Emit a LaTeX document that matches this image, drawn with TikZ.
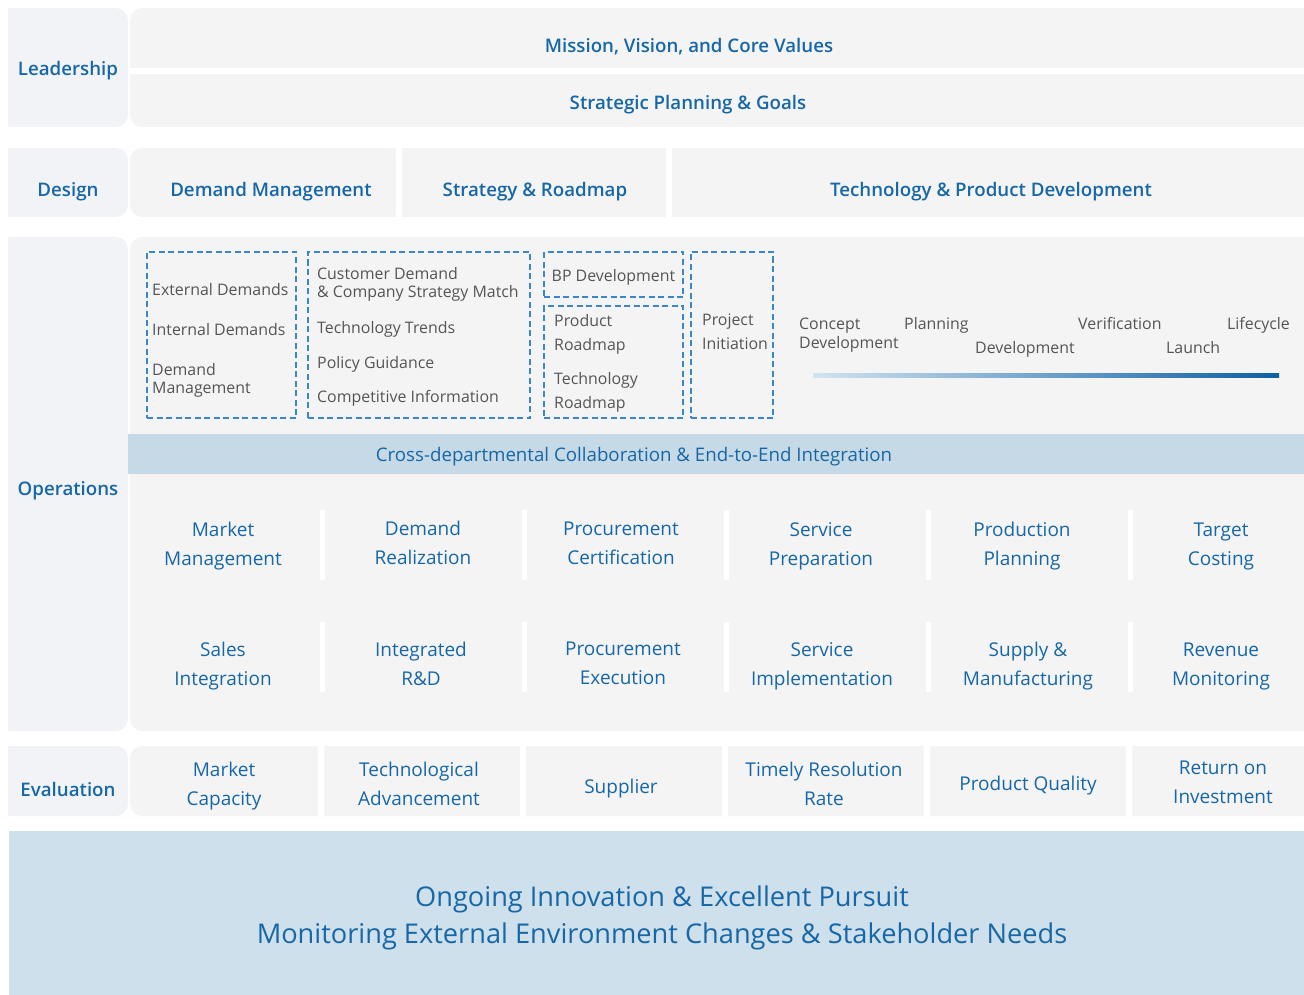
\documentclass[tikz,border=0pt]{standalone}
\usepackage{fontspec}
\IfFontExistsTF{Open Sans Semibold}
  {\setmainfont{Open Sans}[BoldFont={Open Sans Semibold}]}
  {\setmainfont{Open Sans}}
\usetikzlibrary{positioning,calc}
\definecolor{tierblue}{HTML}{1767A6}
\definecolor{notegray}{HTML}{555555}
\definecolor{panelgray}{HTML}{F4F4F4}
\definecolor{sidegray}{HTML}{F1F3F7}
\definecolor{bandblue}{HTML}{C6D9E6}
\definecolor{basefill}{HTML}{CEE0EC}
\definecolor{dashblue}{HTML}{3A86C6}
\definecolor{barlight}{HTML}{D2E4F0}
\definecolor{bardark}{HTML}{0B5FA5}
\tikzset{
  side/.style={fill=sidegray},
  panel/.style={fill=panelgray},
  gap/.style={fill=white},
  tier/.style={text=tierblue,font=\fontsize{18.7}{22}\selectfont\bfseries},
  head/.style={text=tierblue,font=\fontsize{18.7}{22}\selectfont\bfseries},
  item/.style={text=tierblue,align=center,inner sep=0pt,font=\fontsize{19}{29}\selectfont},
  note/.style={text=notegray,align=left,inner sep=0pt,anchor=west,font=\fontsize{15.9}{18}\selectfont},
  dashbox/.style={draw=dashblue,line width=1.4pt,dash pattern=on 6pt off 3.5pt,inner sep=0pt}
}

\begin{document}
\begin{tikzpicture}[x=1pt,y=-1pt]
  \useasboundingbox (0,0) rectangle (1304,995);

  % left column: tier labels, rounded on the right
  \foreach \top/\bot in {8/127,148/217,237/731,746/816} {
    \fill[side,rounded corners=12pt] (8,\top) rectangle (128,\bot);
    \fill[side] (8,\top) rectangle (60,\bot);
  }

  % leadership panels
  \fill[panel,rounded corners=12pt] (130,8) rectangle (1304,127);
  \fill[panel] (700,8) rectangle (1304,127);
  \fill[gap] (130,68) rectangle (1304,74);

  % design panels
  \fill[panel,rounded corners=12pt] (130,148) rectangle (396,217);
  \fill[panel] (300,148) rectangle (396,217);
  \fill[panel] (402,148) rectangle (666,217);
  \fill[panel] (672,148) rectangle (1304,217);

  % operations panel
  \fill[panel,rounded corners=12pt] (130,237) rectangle (1304,731);
  \fill[panel] (700,237) rectangle (1304,731);
  \fill[bandblue] (128,434) rectangle (1304,474);
  \foreach \x in {320,522,724,926,1128} {
    \fill[gap] (\x,510) rectangle ++(5,70);
    \fill[gap] (\x,622) rectangle ++(5,70);
  }

  % evaluation panels
  \fill[panel,rounded corners=12pt] (130,746) rectangle (318,816);
  \fill[panel] (250,746) rectangle (318,816);
  \foreach \l/\r in {324/520,526/722,728/924,930/1126,1132/1304}
    \fill[panel] (\l,746) rectangle (\r,816);

  % base
  \fill[basefill] (9,831) rectangle (1304,995);

  % tier labels
  \node[tier] (leadership) at (68,71) {Leadership};
  \node[tier] (design) at (68,192) {Design};
  \node[tier] (operations) at (68,491) {Operations};
  \node[tier] (evaluation) at (68,789) {Evaluation};

  \node[head] (mission) at (689,47) {Mission, Vision, and Core Values};
  \node[head] (strategic) at (688,105) {Strategic Planning \& Goals};
  \node[head] (demandmgmt) at (271,192) {Demand Management};
  \node[head] (roadmap) at (535,192) {Strategy \& Roadmap};
  \node[head] (techdev) at (991,192) {Technology \& Product Development};

  % dashed groups
  \node[dashbox,minimum width=149pt,minimum height=166pt] (extbox) at (221.5,335) {};
  \node[dashbox,minimum width=222pt,minimum height=166pt] (factbox) at (419,335) {};
  \node[dashbox,minimum width=139pt,minimum height=45pt] (bpbox) at (613.5,274.5) {};
  \node[dashbox,minimum width=139pt,minimum height=112pt] (mapbox) at (613.5,362) {};
  \node[dashbox,minimum width=82pt,minimum height=166pt] (initbox) at (732,335) {};

  \node[note] (external) at (152,290) {External Demands};
  \node[note] (internal) at (152,330) {Internal Demands};
  \node[note] (demandnote) at (152,380) {Demand\\Management};
  \node[note] (match) at (317,284.5) {Customer Demand\\\& Company Strategy Match};
  \node[note] (trends) at (317,329.5) {Technology Trends};
  \node[note] (policy) at (317,364.5) {Policy Guidance};
  \node[note] (compete) at (317,398.5) {Competitive Information};
  \node[note,anchor=center] (bpdev) at ($(bpbox)+(0,3)$) {BP Development};
  \node[note,font=\fontsize{15.9}{24}\selectfont] (prodmap) at (554,334.5) {Product\\Roadmap};
  \node[note,font=\fontsize{15.9}{24}\selectfont] (techmap) at (554,392.5) {Technology\\Roadmap};
  \node[note,font=\fontsize{15.9}{24}\selectfont] (initiation) at (702,331.5) {Project\\Initiation};

  % product lifecycle
  \node[note,font=\fontsize{15.9}{19}\selectfont] (concept) at (799,335) {Concept\\Development};
  \node[note] (planning) at (904,325.5) {Planning};
  \node[note] (develop) at (975,349.5) {Development};
  \node[note] (verify) at (1078,323.5) {Verification};
  \node[note] (launch) at (1166,347.5) {Launch};
  \node[note] (lifecycle) at (1227,325.5) {Lifecycle};
  \shade[left color=barlight,right color=bardark] (813,373) rectangle (1279,377);

  \node[text=tierblue,font=\fontsize{18.7}{22}\selectfont] (collab) at (634,457)
    {Cross-departmental Collaboration \& End-to-End Integration};

  % operations grid
  \node[item] (market) at (223,546) {Market\\Management};
  \node[item] (realize) at (423,543) {Demand\\Realization};
  \node[item] (certify) at (621,543) {Procurement\\Certification};
  \node[item] (prepare) at (821,546) {Service\\Preparation};
  \node[item] (production) at (1022,546) {Production\\Planning};
  \node[item] (costing) at (1221,546) {Target\\Costing};
  \node[item] (sales) at (223,666.5) {Sales\\Integration};
  \node[item] (rnd) at (421,663.5) {Integrated\\R\&D};
  \node[item] (execute) at (623,663) {Procurement\\Execution};
  \node[item] (implement) at (822,666.5) {Service\\Implementation};
  \node[item] (supply) at (1028,666.5) {Supply \&\\Manufacturing};
  \node[item] (revenue) at (1221,666) {Revenue\\Monitoring};

  % evaluation metrics
  \node[item] (capacity) at (224,786.5) {Market\\Capacity};
  \node[item] (advance) at (419,783.5) {Technological\\Advancement};
  \node[item] (supplier) at (621,789) {Supplier};
  \node[item] (resolution) at (824,783.5) {Timely Resolution\\Rate};
  \node[item] (quality) at (1028,786) {Product Quality};
  \node[item] (roi) at (1223,782.5) {Return on\\Investment};

  \node[item,font=\fontsize{27.2}{37}\selectfont] (pursuit) at (662,917.5)
    {Ongoing Innovation \& Excellent Pursuit\\Monitoring External Environment Changes \& Stakeholder Needs};
\end{tikzpicture}
\end{document}
